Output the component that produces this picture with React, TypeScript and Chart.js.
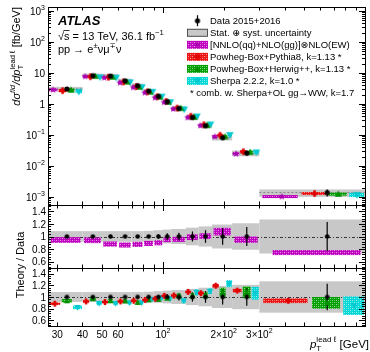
import React, { useEffect, useRef } from 'react';
import { Chart, registerables } from 'chart.js';
Chart.register(...registerables);

// ---------------- data ----------------
const binEdges = [27, 40, 50, 60, 70, 80, 90, 100, 110, 130, 150, 175, 220, 300, 1000];
const dataXsec = [3.05, 8.2, 8.0, 5.6, 3.9, 2.6, 1.77, 1.19, 0.72, 0.37, 0.2, 0.082, 0.026, 0.00138];
const dataStatRel = [0.015, 0.015, 0.016, 0.018, 0.02, 0.025, 0.035, 0.05, 0.06, 0.08, 0.1, 0.13, 0.15, 0.23];
const dataTotalRel = [0.085, 0.085, 0.085, 0.085, 0.085, 0.09, 0.1, 0.11, 0.12, 0.14, 0.16, 0.19, 0.21, 0.27];
const nnloRatio = [0.944, 0.94, 0.88, 0.865, 0.875, 0.89, 0.9, 0.95, 0.955, 0.99, 1.005, 1.077, 0.95, 0.745];
const nnloUnc = [0.045, 0.045, 0.04, 0.04, 0.04, 0.04, 0.04, 0.04, 0.04, 0.045, 0.045, 0.06, 0.05, 0.04];
const pythiaRatio = [0.884, 0.924, 0.913, 0.924, 0.935, 0.95, 0.97, 1.02, 1.025, 1.088, 1.065, 1.195, 1.11, 0.935];
const pythiaUnc = [0.02, 0.02, 0.02, 0.02, 0.02, 0.02, 0.02, 0.025, 0.025, 0.025, 0.03, 0.03, 0.03, 0.04];
const herwigRatio = [0.935, 0.97, 0.935, 0.93, 0.907, 0.95, 0.96, 0.98, 1.02, 1.02, 1.03, 1.08, 1.08, 0.9];
const herwigUnc = [0.03, 0.03, 0.03, 0.03, 0.03, 0.03, 0.03, 0.035, 0.04, 0.05, 0.06, 0.08, 0.1, 0.1];
const sherpaRatio = [0.82, 0.89, 0.89, 0.9, 0.9, 0.96, 0.985, 0.97, 0.935, 1.08, 1.1, 1.23, 1.065, 0.85];
const sherpaUnc = [0.03, 0.03, 0.03, 0.03, 0.03, 0.03, 0.035, 0.04, 0.04, 0.05, 0.05, 0.06, 0.11, 0.16];

const xMajorTicks = [100, 1000];
const xMinorTicks = [30, 40, 50, 60, 70, 80, 90, 200, 300, 400, 500, 600, 700, 800, 900];
const xLabelValues = [30, 40, 50, 60, 100, 200, 300];
const xLabels = ['30', '40', '50', '60', '10^2', '2×10^2', '3×10^2'];
const yTopLabelValues = [1e-3, 1e-2, 1e-1, 1, 10, 100, 1000];
const yTopLabels = ['10^−3', '10^−2', '10^−1', '1', '10', '10^2', '10^3'];
const ratioLabelValues = [0.6, 0.8, 1, 1.2, 1.4];
const ratioLabels = ['0.6', '0.8', '1', '1.2', '1.4'];

const legendLabels = [
  'Data 2015+2016',
  'Stat. ⊕ syst. uncertainty',
  '[NNLO(qq)+NLO(gg)]⊗NLO(EW)',
  'Powheg-Box+Pythia8, k=1.13 *',
  'Powheg-Box+Herwig++, k=1.13 *',
  'Sherpa 2.2.2, k=1.0 *',
];
const legendNote = '* comb. w. Sherpa+OL gg→WW, k=1.7';

// ---------------- layout / style ----------------
const W = 370, H = 352;
const X_MIN = 27, X_MAX = 1000;
const TOP_MIN = 5.5e-4, TOP_MAX = 1350;
const R_MIN = 0.5, R_MAX = 1.5;
const FONT = '"Liberation Sans", Arimo, Helvetica, Arial, "DejaVu Sans", sans-serif';
const C_MAG = '#c000c0', C_RED = '#ee1111', C_GRN = '#00a000', C_CYA = '#00d8d8';
const C_BAND = '#c8c8c8';

type Part = { t: string; it?: boolean; bold?: boolean; pos?: 'sup' | 'sub'; stack?: boolean };

function partFont(p: Part, size: number) {
  const s = p.pos ? size * 0.7 : size;
  return `${p.it ? 'italic ' : ''}${p.bold ? 'bold ' : ''}${s}px ${FONT}`;
}
function layoutRich(ctx: CanvasRenderingContext2D, parts: Part[], size: number) {
  let x = 0, lastStart = 0, lastW = 0;
  const items: { p: Part; x: number }[] = [];
  for (const p of parts) {
    ctx.font = partFont(p, size);
    const w = ctx.measureText(p.t).width;
    if (p.stack) {
      items.push({ p, x: lastStart });
      lastW = Math.max(lastW, w);
      x = lastStart + lastW;
    } else {
      items.push({ p, x });
      lastStart = x; lastW = w; x += w;
    }
  }
  return { items, width: x };
}
function drawRich(ctx: CanvasRenderingContext2D, parts: Part[], x: number, y: number, size: number, align: 'left' | 'right' | 'center', color = '#000') {
  const L = layoutRich(ctx, parts, size);
  const x0 = align === 'left' ? x : align === 'right' ? x - L.width : x - L.width / 2;
  ctx.textAlign = 'left';
  ctx.textBaseline = 'alphabetic';
  ctx.fillStyle = color;
  for (const it of L.items) {
    ctx.font = partFont(it.p, size);
    const dy = it.p.pos === 'sup' ? -size * 0.45 : it.p.pos === 'sub' ? size * 0.28 : 0;
    ctx.fillText(it.p.t, x0 + it.x, y + dy);
  }
  return L.width;
}
function labelParts(s: string): Part[] {
  const i = s.indexOf('^');
  if (i < 0) return [{ t: s }];
  return [{ t: s.slice(0, i) }, { t: s.slice(i + 1), pos: 'sup' }];
}

function markerCanvas(kind: string, color: string, r: number) {
  const s = Math.ceil(r * 2 + 2);
  const c = document.createElement('canvas');
  c.width = s; c.height = s;
  const g = c.getContext('2d')!;
  g.fillStyle = color;
  const m = s / 2;
  g.beginPath();
  if (kind === 'circle') g.arc(m, m, r, 0, Math.PI * 2);
  else if (kind === 'star') {
    for (let i = 0; i < 10; i++) {
      const a = -Math.PI / 2 + (i * Math.PI) / 5;
      const rr = i % 2 === 0 ? r : r * 0.42;
      g.lineTo(m + rr * Math.cos(a), m + rr * Math.sin(a));
    }
    g.closePath();
  } else if (kind === 'plus') {
    const t = r * 0.4;
    g.rect(m - r, m - t, 2 * r, 2 * t);
    g.rect(m - t, m - r, 2 * t, 2 * r);
  } else if (kind === 'triUp') {
    g.moveTo(m, m - r); g.lineTo(m + r, m + r * 0.75); g.lineTo(m - r, m + r * 0.75); g.closePath();
  } else if (kind === 'triDown') {
    g.moveTo(m, m + r); g.lineTo(m + r, m - r * 0.75); g.lineTo(m - r, m - r * 0.75); g.closePath();
  }
  g.fill();
  return c;
}

const patCache: Record<string, HTMLCanvasElement> = {};
function hatch(ctx: CanvasRenderingContext2D, color: string) {
  if (!patCache[color]) {
    const c = document.createElement('canvas');
    c.width = 4; c.height = 4;
    const g = c.getContext('2d')!;
    g.fillStyle = color; g.fillRect(0, 0, 4, 4);
    g.fillStyle = 'rgba(255,255,255,0.6)';
    g.fillRect(0, 0, 1, 1); g.fillRect(2, 2, 1, 1);
    g.fillStyle = 'rgba(255,255,255,0.3)';
    g.fillRect(2, 0, 1, 1); g.fillRect(0, 2, 1, 1);
    patCache[color] = c;
  }
  return ctx.createPattern(patCache[color], 'repeat')!;
}

const nBins = binEdges.length - 1;
const center = (i: number) => (binEdges[i] + binEdges[i + 1]) / 2;
const sub = (i: number, j: number, n: number) => {
  const lo = binEdges[i], w = (binEdges[i + 1] - lo) / n;
  return [lo + j * w, lo + (j + 1) * w];
};

function fillBox(ctx: CanvasRenderingContext2D, chart: any, x0: number, x1: number, y0: number, y1: number, fill: any, minHalf: number) {
  const xs = chart.scales.x, ys = chart.scales.y;
  const px0 = xs.getPixelForValue(x0), px1 = xs.getPixelForValue(x1);
  let top = ys.getPixelForValue(y1), bot = ys.getPixelForValue(y0);
  const mid = (top + bot) / 2;
  if (bot - top < 2 * minHalf) { top = mid - minHalf; bot = mid + minHalf; }
  ctx.fillStyle = fill;
  ctx.fillRect(px0, top, px1 - px0, bot - top);
}
function vLine(ctx: CanvasRenderingContext2D, chart: any, x: number, y0: number, y1: number, lw: number) {
  const xs = chart.scales.x, ys = chart.scales.y;
  const px = xs.getPixelForValue(x);
  ctx.strokeStyle = '#000'; ctx.lineWidth = lw;
  ctx.beginPath(); ctx.moveTo(px, ys.getPixelForValue(y0)); ctx.lineTo(px, ys.getPixelForValue(y1)); ctx.stroke();
}
function clipArea(ctx: CanvasRenderingContext2D, chart: any) {
  const a = chart.chartArea;
  ctx.beginPath(); ctx.rect(a.left, a.top, a.right - a.left, a.bottom - a.top); ctx.clip();
}

function drawAxes(chart: any, yMajor: number[], yMinor: number[]) {
  const ctx: CanvasRenderingContext2D = chart.ctx;
  const { left, right, top, bottom } = chart.chartArea;
  const xs = chart.scales.x, ys = chart.scales.y;
  ctx.save();
  ctx.strokeStyle = '#000'; ctx.lineWidth = 1; ctx.setLineDash([]);
  ctx.beginPath();
  const vt = (px: number, len: number) => {
    const p = Math.round(px) + 0.5;
    ctx.moveTo(p, bottom); ctx.lineTo(p, bottom - len);
    ctx.moveTo(p, top); ctx.lineTo(p, top + len);
  };
  xMajorTicks.forEach(v => vt(xs.getPixelForValue(v), 6));
  xMinorTicks.forEach(v => vt(xs.getPixelForValue(v), 3.5));
  const ht = (py: number, len: number) => {
    const p = Math.round(py) + 0.5;
    ctx.moveTo(left, p); ctx.lineTo(left + len, p);
    ctx.moveTo(right, p); ctx.lineTo(right - len, p);
  };
  yMajor.forEach(v => ht(ys.getPixelForValue(v), 6));
  yMinor.forEach(v => ht(ys.getPixelForValue(v), 3));
  ctx.stroke();
  ctx.strokeRect(left + 0.5, top + 0.5, right - left, bottom - top);
  ctx.restore();
}

function yLabels(chart: any, values: number[], labels: string[], xRight: number) {
  const ctx: CanvasRenderingContext2D = chart.ctx;
  const ys = chart.scales.y;
  values.forEach((v, i) => {
    drawRich(ctx, labelParts(labels[i]), xRight, ys.getPixelForValue(v) + 3.6, 10, 'right');
  });
}

const topMinor: number[] = [];
for (let e = -4; e <= 3; e++) for (let k = 2; k <= 9; k++) {
  const v = k * Math.pow(10, e);
  if (v > TOP_MIN && v < TOP_MAX) topMinor.push(v);
}
const ratioMinor: number[] = [];
for (let k = 13; k <= 37; k++) ratioMinor.push(k * 0.04);

function baseOptions(padding: any, yScale: any): any {
  return {
    responsive: false,
    animation: false,
    devicePixelRatio: 1,
    events: [],
    layout: { padding },
    plugins: { legend: { display: false }, tooltip: { enabled: false } },
    scales: {
      x: { type: 'logarithmic', min: X_MIN, max: X_MAX, display: false },
      y: { ...yScale, display: false },
    },
  };
}

function makeTop(canvas: HTMLCanvasElement) {
  const mk = {
    data: markerCanvas('circle', '#000', 2.6),
    nnlo: markerCanvas('star', '#a800b0', 3.8),
    py: markerCanvas('plus', '#e00000', 3.3),
    hw: markerCanvas('triUp', '#009000', 3.6),
    sh: markerCanvas('triDown', '#00c8d0', 3.8),
  };
  const models = [
    { r: nnloRatio, u: nnloUnc, c: C_MAG, m: mk.nnlo },
    { r: pythiaRatio, u: pythiaUnc, c: C_RED, m: mk.py },
    { r: herwigRatio, u: herwigUnc, c: C_GRN, m: mk.hw },
    { r: sherpaRatio, u: sherpaUnc, c: C_CYA, m: mk.sh },
  ];
  const idx = [0, 1, 2, 3];
  const datasets: any[] = [
    { data: dataXsec.map((v, i) => ({ x: center(i), y: v })), pointStyle: mk.data, pointRadius: 3 },
    ...models.map((md, j) => ({
      data: dataXsec.map((v, i) => {
        const [a, b] = sub(i, j, 4);
        return { x: (a + b) / 2, y: v * md.r[i] };
      }),
      pointStyle: md.m, pointRadius: 3,
    })),
  ];
  const plugin = {
    id: 'topDraw',
    beforeDatasetsDraw(chart: any) {
      const ctx: CanvasRenderingContext2D = chart.ctx;
      ctx.save(); clipArea(ctx, chart);
      for (let i = 0; i < nBins; i++) {
        const v = dataXsec[i], t = dataTotalRel[i];
        fillBox(ctx, chart, binEdges[i], binEdges[i + 1], v * (1 - t), v * (1 + t), C_BAND, 2.2);
        const xs = chart.scales.x, ys = chart.scales.y;
        ctx.strokeStyle = '#777'; ctx.lineWidth = 0.8; ctx.setLineDash([2, 2]);
        ctx.beginPath();
        ctx.moveTo(xs.getPixelForValue(binEdges[i]), ys.getPixelForValue(v));
        ctx.lineTo(xs.getPixelForValue(binEdges[i + 1]), ys.getPixelForValue(v));
        ctx.stroke(); ctx.setLineDash([]);
      }
      for (let i = 0; i < nBins; i++) {
        idx.forEach(j => {
          const md = models[j];
          const [a, b] = sub(i, j, 4);
          const ins = (b - a) * 0.06;
          const mv = dataXsec[i] * md.r[i];
          fillBox(ctx, chart, a + ins, b - ins, mv * (1 - md.u[i]), mv * (1 + md.u[i]), hatch(ctx, md.c), 1.5);
        });
        const v = dataXsec[i], s = dataStatRel[i];
        vLine(ctx, chart, center(i), v * (1 - s) * 0.97, v * (1 + s) * 1.03, 1.2);
      }
      ctx.restore();
    },
    afterDraw(chart: any) {
      const ctx: CanvasRenderingContext2D = chart.ctx;
      drawAxes(chart, yTopLabelValues, topMinor);
      yLabels(chart, yTopLabelValues, yTopLabels, 45);
      // y title
      ctx.save();
      ctx.translate(20, 7);
      ctx.rotate(-Math.PI / 2);
      drawRich(ctx, [
        { t: 'dσ', it: true }, { t: 'fid', it: true, pos: 'sup' }, { t: '/d', it: true }, { t: 'p', it: true },
        { t: 'T', pos: 'sub' }, { t: 'lead ℓ', pos: 'sup', stack: true }, { t: ' [fb/GeV]' },
      ], 0, 0, 11, 'right');
      ctx.restore();
      // ATLAS labels
      ctx.save();
      drawRich(ctx, [{ t: 'ATLAS', it: true, bold: true }], 58, 25, 13, 'left');
      ctx.font = `11px ${FONT}`;
      const wr = ctx.measureText('√').width;
      const ws = ctx.measureText('s').width;
      drawRich(ctx, [{ t: '√s = 13 TeV, 36.1 fb' }, { t: '−1', pos: 'sup' }], 58, 39.5, 11, 'left');
      ctx.strokeStyle = '#000'; ctx.lineWidth = 0.8;
      ctx.beginPath(); ctx.moveTo(58 + wr - 0.5, 30.5); ctx.lineTo(58 + wr + ws, 30.5); ctx.stroke();
      drawRich(ctx, [{ t: 'pp → e' }, { t: '±', pos: 'sup' }, { t: 'νμ' }, { t: '∓', pos: 'sup' }, { t: 'ν' }], 58, 52.5, 11, 'left');
      // legend
      const x0 = 187, x1 = 208, xm = (x0 + x1) / 2, tx = 210;
      legendLabels.forEach((lab, i) => {
        const cy = 20.7 + i * 12.05;
        if (i === 0) {
          ctx.strokeStyle = '#000'; ctx.lineWidth = 1.2;
          ctx.beginPath(); ctx.moveTo(xm, cy - 5.5); ctx.lineTo(xm, cy + 5.5); ctx.stroke();
          ctx.drawImage(mk.data, xm - mk.data.width / 2, cy - mk.data.height / 2);
        } else if (i === 1) {
          ctx.fillStyle = C_BAND; ctx.fillRect(x0, cy - 4, x1 - x0, 8);
          ctx.strokeStyle = '#333'; ctx.lineWidth = 0.8; ctx.strokeRect(x0 + 0.5, cy - 3.5, x1 - x0 - 1, 7);
        } else {
          const md = models[i - 2];
          ctx.fillStyle = hatch(ctx, md.c); ctx.fillRect(x0, cy - 4, x1 - x0, 8);
          ctx.drawImage(md.m, xm - md.m.width / 2, cy - md.m.height / 2);
        }
        ctx.font = `9.5px ${FONT}`; ctx.fillStyle = '#000'; ctx.textAlign = 'left'; ctx.textBaseline = 'alphabetic';
        ctx.fillText(lab, tx, cy + 3.4);
      });
      ctx.font = `9.5px ${FONT}`;
      ctx.fillText(legendNote, 190, 20.7 + 6 * 12.05 - 0.5 + 3.4);
      ctx.restore();
    },
  };
  return new Chart(canvas, {
    type: 'scatter',
    data: { datasets },
    options: baseOptions({ left: 48, right: 1, top: 7, bottom: H - 205 }, { type: 'logarithmic', min: TOP_MIN, max: TOP_MAX }),
    plugins: [plugin],
  } as any);
}

function ratioBackground(chart: any) {
  const ctx: CanvasRenderingContext2D = chart.ctx;
  for (let i = 0; i < nBins; i++) {
    const t = dataTotalRel[i];
    fillBox(ctx, chart, binEdges[i], binEdges[i + 1], 1 - t, 1 + t, C_BAND, 0);
  }
  const xs = chart.scales.x, ys = chart.scales.y;
  const a = chart.chartArea;
  const py = Math.round(ys.getPixelForValue(1)) + 0.5;
  ctx.strokeStyle = '#222'; ctx.lineWidth = 0.9; ctx.setLineDash([3, 2, 1, 2]);
  ctx.beginPath(); ctx.moveTo(a.left, py); ctx.lineTo(a.right, py); ctx.stroke();
  ctx.setLineDash([]);
  void xs;
}

function makeRatio1(canvas: HTMLCanvasElement) {
  const dm = markerCanvas('circle', '#000', 2.3);
  const datasets: any[] = [
    { data: dataXsec.map((_, i) => ({ x: center(i), y: 1 })), pointStyle: dm, pointRadius: 3 },
  ];
  const plugin = {
    id: 'r1Draw',
    beforeDatasetsDraw(chart: any) {
      const ctx: CanvasRenderingContext2D = chart.ctx;
      ctx.save(); clipArea(ctx, chart);
      ratioBackground(chart);
      for (let i = 0; i < nBins; i++) {
        const a = binEdges[i], b = binEdges[i + 1], ins = (b - a) * 0.07;
        fillBox(ctx, chart, a + ins, b - ins, nnloRatio[i] - nnloUnc[i], nnloRatio[i] + nnloUnc[i], hatch(ctx, C_MAG), 0);
      }
      for (let i = 0; i < nBins; i++) vLine(ctx, chart, center(i), 1 - dataStatRel[i], 1 + dataStatRel[i], 1.2);
      ctx.restore();
    },
    afterDraw(chart: any) {
      drawAxes(chart, ratioLabelValues, ratioMinor);
      yLabels(chart, ratioLabelValues, ratioLabels, 46);
    },
  };
  return new Chart(canvas, {
    type: 'scatter',
    data: { datasets },
    options: baseOptions({ left: 48, right: 1, top: 205, bottom: H - 268 }, { type: 'linear', min: R_MIN, max: R_MAX }),
    plugins: [plugin],
  } as any);
}

function makeRatio2(canvas: HTMLCanvasElement) {
  const dm = markerCanvas('circle', '#000', 2.3);
  const models = [
    { r: pythiaRatio, u: pythiaUnc, c: C_RED, m: markerCanvas('plus', '#e00000', 3) },
    { r: herwigRatio, u: herwigUnc, c: C_GRN, m: markerCanvas('triUp', '#009000', 3.2) },
    { r: sherpaRatio, u: sherpaUnc, c: C_CYA, m: markerCanvas('triDown', '#00c8d0', 3.2) },
  ];
  const datasets: any[] = [
    { data: dataXsec.map((_, i) => ({ x: center(i), y: 1 })), pointStyle: dm, pointRadius: 3 },
    ...models.map((md, j) => ({
      data: dataXsec.map((_, i) => {
        const [a, b] = sub(i, j, 3);
        return { x: (a + b) / 2, y: md.r[i] };
      }),
      pointStyle: md.m, pointRadius: 3,
    })),
  ];
  const plugin = {
    id: 'r2Draw',
    beforeDatasetsDraw(chart: any) {
      const ctx: CanvasRenderingContext2D = chart.ctx;
      ctx.save(); clipArea(ctx, chart);
      ratioBackground(chart);
      for (let i = 0; i < nBins; i++) {
        models.forEach((md, j) => {
          const [a, b] = sub(i, j, 3);
          const ins = (b - a) * 0.06;
          fillBox(ctx, chart, a + ins, b - ins, md.r[i] - md.u[i], md.r[i] + md.u[i], hatch(ctx, md.c), 0);
        });
      }
      for (let i = 0; i < nBins; i++) vLine(ctx, chart, center(i), 1 - dataStatRel[i], 1 + dataStatRel[i], 1.2);
      ctx.restore();
    },
    afterDraw(chart: any) {
      const ctx: CanvasRenderingContext2D = chart.ctx;
      drawAxes(chart, ratioLabelValues, ratioMinor);
      yLabels(chart, ratioLabelValues, ratioLabels, 46);
      const xs = chart.scales.x;
      xLabelValues.forEach((v, i) => {
        drawRich(ctx, labelParts(xLabels[i]), xs.getPixelForValue(v), 337.5, 10, 'center');
      });
      drawRich(ctx, [{ t: 'p', it: true }, { t: 'T', pos: 'sub' }, { t: 'lead ℓ', pos: 'sup', stack: true }, { t: ' [GeV]' }], 369, 347.5, 11.5, 'right');
      ctx.save();
      ctx.translate(23.5, 265);
      ctx.rotate(-Math.PI / 2);
      drawRich(ctx, [{ t: 'Theory / Data' }], 0, 0, 11, 'center');
      ctx.restore();
    },
  };
  return new Chart(canvas, {
    type: 'scatter',
    data: { datasets },
    options: baseOptions({ left: 48, right: 1, top: 268, bottom: H - 326 }, { type: 'linear', min: R_MIN, max: R_MAX }),
    plugins: [plugin],
  } as any);
}

export default function App() {
  const r1 = useRef<HTMLCanvasElement>(null);
  const r2 = useRef<HTMLCanvasElement>(null);
  const r3 = useRef<HTMLCanvasElement>(null);
  useEffect(() => {
    const charts = [makeTop(r1.current!), makeRatio1(r2.current!), makeRatio2(r3.current!)];
    return () => charts.forEach(c => c.destroy());
  }, []);
  const cs: React.CSSProperties = { position: 'absolute', left: 0, top: 0, width: W, height: H };
  return (
    <div style={{ position: 'absolute', left: 0, top: 0, width: W, height: H, background: '#fff', overflow: 'hidden' }}>
      <canvas ref={r1} width={W} height={H} style={cs} />
      <canvas ref={r2} width={W} height={H} style={cs} />
      <canvas ref={r3} width={W} height={H} style={cs} />
    </div>
  );
}
